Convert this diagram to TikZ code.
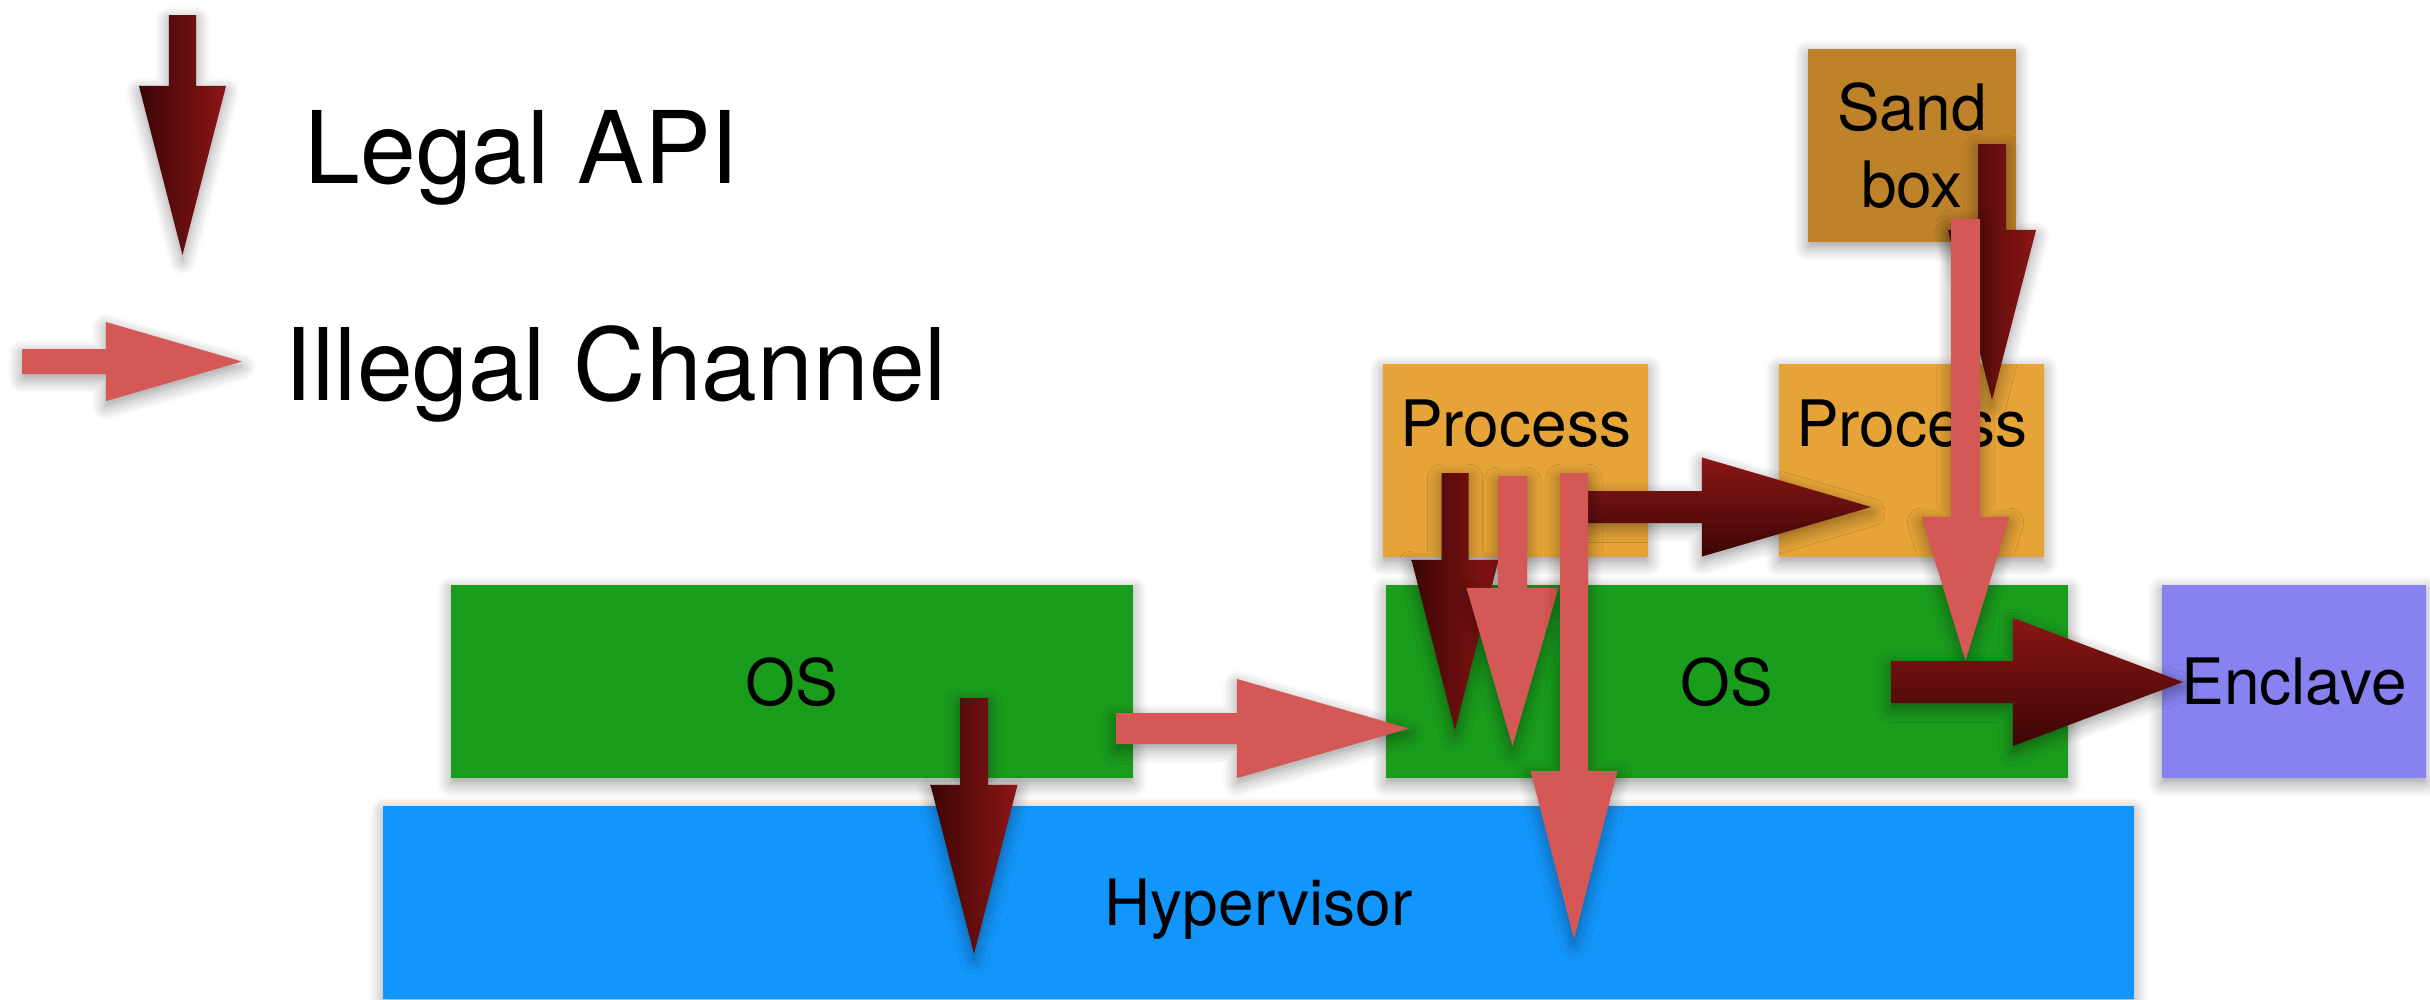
\documentclass[tikz,border=0pt]{standalone}
\usepackage{fontspec}
\setmainfont{TeX Gyre Heros}
\usetikzlibrary{calc,shadows.blur}

\definecolor{osgreen}{HTML}{1A9C1D}
\definecolor{hypblue}{HTML}{1396FC}
\definecolor{procorange}{HTML}{E6A438}
\definecolor{sandbrown}{HTML}{BE822A}
\definecolor{enclpurple}{HTML}{8782F0}
\definecolor{illred}{HTML}{D45855}
\definecolor{legdark}{HTML}{3C0505}
\definecolor{legred}{HTML}{8C1616}

\tikzset{
  softshadow/.style={blur shadow={shadow xshift=0pt, shadow yshift=-1.5pt,
      shadow blur radius=4pt, shadow blur steps=6, shadow opacity=40}},
  layer/.style={rectangle, inner sep=0pt, softshadow, text depth=0pt,
      minimum height=1.93cm, font=\fontsize{18.2}{21.9}\selectfont},
  boxtext/.style={inner sep=0pt, font=\fontsize{18.2}{21.9}\selectfont},
  legend/.style={inner sep=0pt, font=\fontsize{28.5}{34}\selectfont},
  legal/.style={left color=legdark, right color=legred, softshadow},
  legalh/.style={top color=legred, bottom color=legdark, softshadow},
  illegal/.style={fill=illred, softshadow}
}

% block arrows: style, from, to, shaft half width, head half width, head length
\newcommand{\arrdown}[6]{%
  \path[#1] let \p1=(#2), \p2=(#3) in
    (\x1-#4,\y1) -- (\x1+#4,\y1) -- (\x1+#4,\y2+#6) -- (\x1+#5,\y2+#6)
    -- (\x1,\y2) -- (\x1-#5,\y2+#6) -- (\x1-#4,\y2+#6) -- cycle;}
\newcommand{\arrright}[6]{%
  \path[#1] let \p1=(#2), \p2=(#3) in
    (\x1,\y1+#4) -- (\x2-#6,\y1+#4) -- (\x2-#6,\y1+#5) -- (\x2,\y1)
    -- (\x2-#6,\y1-#5) -- (\x2-#6,\y1-#4) -- (\x1,\y1-#4) -- cycle;}

\begin{document}
\begin{tikzpicture}[x=0.01cm, y=-0.01cm]
    \useasboundingbox (0,0) rectangle (2430,999);

    % legend
    \coordinate (la1) at (182.5,15);
    \coordinate (la2) at (182.5,255);
    \coordinate (li1) at (22,361.5);
    \coordinate (li2) at (242,361.5);
    \arrdown{legal}{la1}{la2}{0.135cm}{0.435cm}{1.69cm}
    \arrright{illegal}{li1}{li2}{0.125cm}{0.395cm}{1.36cm}
    \node[legend, anchor=base west] (legaltxt) at (304,183) {Legal API};
    \node[legend, anchor=base west] (illegaltxt) at (284,400) {Illegal Channel};

    % layers
    \node[layer, fill=hypblue, minimum width=17.49cm] (hyp) at (1258.5,902.5) {Hypervisor};
    \node[layer, fill=osgreen, minimum width=6.82cm] (os1) at (792,681.5) {OS};
    \node[layer, fill=osgreen, minimum width=6.82cm] (os2) at (1727,681.5) {OS};
    \node[layer, fill=enclpurple, minimum width=2.64cm] (encl) at (2294,681.5) {Enclave};
    \node[layer, fill=procorange, minimum width=2.65cm] (p1) at (1515.5,460.5) {};
    \node[layer, fill=procorange, minimum width=2.65cm] (p2) at (1911.5,460.5) {};
    \node[boxtext, anchor=base] (p1txt) at (1515.5,446) {Process};
    \node[boxtext, anchor=base] (p2txt) at (1911.5,446) {Process};
    \node[layer, fill=sandbrown, minimum width=2.08cm, align=center] (sbox) at (1912,145.5) {Sand\\box};

    % arrow ends
    \coordinate (a1s) at (974,698);    \coordinate (a1e) at (974,954);
    \coordinate (a2s) at (1116,728.5); \coordinate (a2e) at (1409,728.5);
    \coordinate (a3s) at (1455,473);   \coordinate (a3e) at (1455,730);
    \coordinate (a4s) at (1512.5,476); \coordinate (a4e) at (1512.5,746);
    \coordinate (a5s) at (1580,507);   \coordinate (a5e) at (1871,507);
    \coordinate (a6s) at (1574,473);   \coordinate (a6e) at (1574,939);
    \coordinate (a7s) at (1992,144);   \coordinate (a7e) at (1992,400);
    \coordinate (a8s) at (1965.5,219); \coordinate (a8e) at (1965.5,661);
    \coordinate (a9s) at (1891,682);   \coordinate (a9e) at (2183,682);

    \arrdown{legal}{a1s}{a1e}{0.14cm}{0.435cm}{1.69cm}
    \arrright{illegal}{a2s}{a2e}{0.155cm}{0.495cm}{1.72cm}
    \arrdown{legal}{a3s}{a3e}{0.135cm}{0.435cm}{1.70cm}
    \arrdown{illegal}{a4s}{a4e}{0.145cm}{0.46cm}{1.58cm}
    \arrright{legalh}{a5s}{a5e}{0.16cm}{0.495cm}{1.69cm}
    \arrdown{illegal}{a6s}{a6e}{0.14cm}{0.435cm}{1.68cm}
    \arrdown{legal}{a7s}{a7e}{0.14cm}{0.44cm}{1.70cm}
    \arrdown{illegal}{a8s}{a8e}{0.145cm}{0.44cm}{1.44cm}
    \arrright{legalh}{a9s}{a9e}{0.21cm}{0.64cm}{1.70cm}
\end{tikzpicture}
\end{document}
